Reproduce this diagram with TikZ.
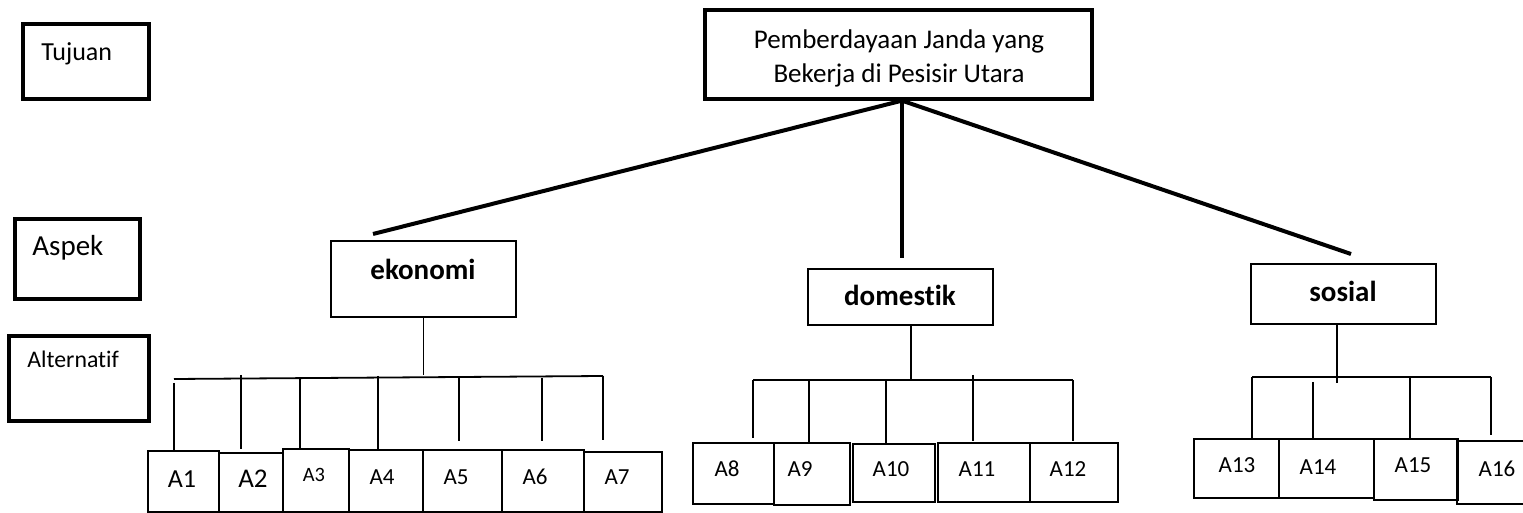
\documentclass[tikz,border=0pt]{standalone}
\usepackage{fontspec}
\setmainfont{Carlito}[Ligatures=NoCommon]
\usetikzlibrary{calc,fit}

\begin{document}
\begin{tikzpicture}[x=0.5pt, y=-0.5pt,
  levelbox/.style={draw, line width=1.75pt, inner sep=0pt},
  goalbox/.style={draw, line width=1.65pt, inner sep=0pt},
  aspbox/.style={draw, line width=0.9pt, inner sep=0pt},
  altbox/.style={draw, line width=0.9pt, inner sep=0pt},
  trunk/.style={line width=2pt},
  twig/.style={line width=0.9pt}]

\useasboundingbox (0,0) rectangle (1523,513);

% --- Level boxes on the left (text at top left) ---
\node[levelbox, fit={(23,24) (149,99)}] (lvTujuan) {};
\node[anchor=base west, inner sep=0pt, font=\fontsize{13}{15}\selectfont] (tTujuan) at (41,61) {Tujuan};

\node[levelbox, fit={(15,219) (140,299)}] (lvAspek) {};
\node[anchor=base west, inner sep=0pt, font=\fontsize{14.5}{17}\selectfont] (tAspek) at (32,256) {Aspek};

\node[levelbox, fit={(9,336) (149,421)}] (lvAlt) {};
\node[anchor=base west, inner sep=0pt, font=\fontsize{11.9}{14}\selectfont] (tAlt) at (27,368) {Alternatif};

% --- Goal box ---
\node[goalbox, fit={(705,10) (1092,99)}] (goal) {};
\node[align=center, inner sep=0pt, font=\fontsize{13.5}{17}\selectfont] (tgoal) at (899,58.8)
  {Pemberdayaan Janda yang\\Bekerja di Pesisir Utara};

% --- Aspect boxes ---
\node[aspbox, fit={(331,241) (516,317)}] (ekonomi) {};
\node[anchor=base, font=\fontsize{14.5}{17}\selectfont\bfseries] (tekonomi) at (423,280) {ekonomi};

\node[aspbox, fit={(808,269) (993,325)}] (domestik) {};
\node[anchor=base, font=\fontsize{14.5}{17}\selectfont\bfseries] (tdomestik) at (900,306) {domestik};

\node[aspbox, fit={(1251,264) (1436,324)}] (sosial) {};
\node[anchor=base, font=\fontsize{14.5}{17}\selectfont\bfseries] (tsosial) at (1343,302) {sosial};

% --- Goal to aspects (free ends stop just above the boxes) ---
\coordinate (apex) at ($(goal.south)+(3.5,0)$);
\coordinate (ekoEnd) at (373,234);
\coordinate (domEnd) at (902,258);
\coordinate (sosEnd) at (1351,254);
\draw[trunk] (apex) -- (ekoEnd);
\draw[trunk] (apex) -- (domEnd);
\draw[trunk] (apex) -- (sosEnd);

% --- Alternative boxes: name/x1/y1/x2/y2/text x/text y/size ---
\foreach \nm/\xa/\ya/\xb/\yb/\tx/\ty/\fs in {
    A1/148/451/219/512/182/488/13,
    A2/219/453/283/512/253/488/13.5,
    A3/283/449/349/512/314/482/10.2,
    A4/349/450/423/512/382/485/11.5,
    A5/423/450/502/512/456/485/11.5,
    A6/502/450/584/512/535/485/11.5,
    A7/584/452/662/512/617/485/11.5,
    A8/693/443/774/504/727/477/11.5,
    A9/774/443/850/505/800/477/11.5,
    A10/853/444/935/502/891/477/11.5,
    A11/938/443/1030/502/977/477/11.5,
    A12/1030/443/1118/502/1068/477/11.5,
    A13/1194/439/1279/498/1237/473/11.5,
    A14/1279/439/1374/498/1318/475/11.5,
    A15/1374/439/1458/500/1413/473/11.5,
    A16/1457/441/1530/504/1497/477/11.5}{
  \node[altbox, fit={(\xa,\ya) (\xb,\yb)}] (\nm) {};
  \node[anchor=base, font=\fontsize{\fs}{\fs}\selectfont] (t\nm) at (\tx,\ty) {\nm};
}

% --- ekonomi: stem, bus and drops ---
\draw[twig] (ekonomi.south) -- ++(0,57);
\draw[twig] (174,379) -- (603,376);
\foreach \x/\ya/\yb in {174/383/450, 241/375/449, 300/378/450, 378/376/449,
                        459/378/441, 542/378/441, 603/376/440}
  \draw[twig] (\x,\ya) -- (\x,\yb);

% --- domestik: stem, bus and drops ---
\draw[twig] ($(domestik.south)+(10.5,0)$) -- ++(0,54);
\draw[twig] (753,380) -- (1073,380);
\foreach \x/\ya/\yb in {753/380/438, 809/380/443, 886/380/443, 973/375/441, 1073/380/441}
  \draw[twig] (\x,\ya) -- (\x,\yb);

% --- sosial: stem, bus and drops ---
\draw[twig] ($(sosial.south)+(-6.5,0)$) -- ++(0,58);
\draw[twig] (1252,377) -- (1491,377);
\foreach \x/\ya/\yb in {1252/377/439, 1313/382/439, 1410/377/439, 1491/377/435}
  \draw[twig] (\x,\ya) -- (\x,\yb);

\end{tikzpicture}
\end{document}
